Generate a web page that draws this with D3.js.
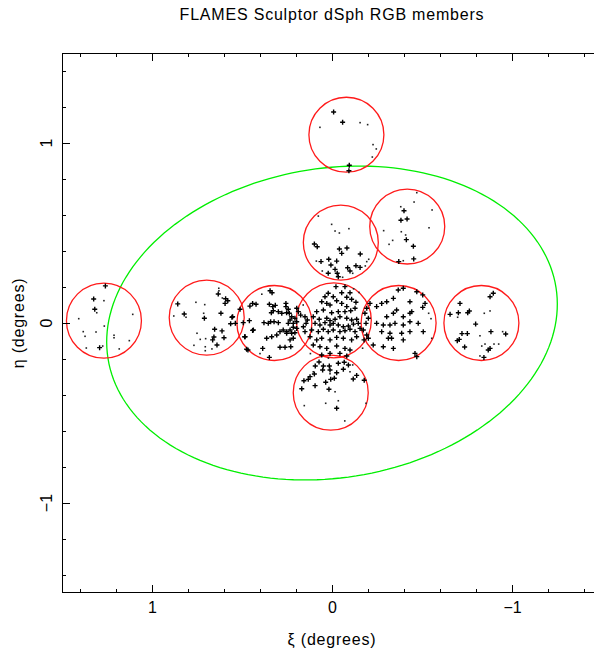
<!DOCTYPE html>
<html><head><meta charset="utf-8">
<script src="https://cdn.jsdelivr.net/npm/d3@7"></script>
<style>
body{margin:0;background:#fff}
svg{display:block}
text{font-family:"Liberation Sans",Arial,Helvetica,sans-serif;fill:#000}
</style>
</head><body>
<svg id="chart" width="594" height="653"></svg>
<script>
// ---------------- data ----------------
const title = "FLAMES Sculptor dSph RGB members";
const xLabel = "ξ (degrees)";
const yLabel = "η (degrees)";
const xDomain = [1.5, -1.5];
const yDomain = [-1.5, 1.5];
const majorTicks = [-1, 0, 1];
const majorTickLabels = ["−1", "0", "1"];
const minorTicks = [-1.4,-1.2,-0.8,-0.6,-0.4,-0.2,0.2,0.4,0.6,0.8,1.2,1.4];

// FLAMES field centres (xi, eta) in degrees, field radius 12.5 arcmin
const fieldCentres = [
  [1.267, 0.013], [0.696, 0.03], [0.32, 0.0], [-0.01, 0.015], [-0.37, 0.0],
  [-0.83, 0.0], [0.007, -0.387], [-0.049, 0.447], [-0.418, 0.536], [-0.08, 1.046]
];
const fieldRadius = 0.2083;

// tidal ellipse
const tidalSemiMajor = 1.26;
const tidalSemiMinor = 0.86;
const tidalPA = 99; // degrees east of north

// members drawn with "+"
const plusStars = [
  [1.259,0.206],[1.324,0.133],[1.318,0.076],[1.291,-0.137],
  [0.632,0.161],[0.591,0.135],[0.579,0.124],[0.594,0.109],[0.857,0.106],[0.821,0.05],[0.709,0.026],
  [0.617,0.054],[0.556,0.032],[0.563,-0.004],[0.652,-0.035],[0.611,-0.044],[0.656,-0.078],[0.663,-0.094],
  [0.6,-0.082],[0.639,-0.122],[0.467,-0.15],[0.511,0.076],[0.441,-0.041],[0.485,-0.076],
  [0.344,0.179],[0.333,0.168],[0.441,0.109],[0.422,0.104],[0.456,0.094],[0.348,0.104],[0.329,0.091],
  [0.315,0.098],[0.326,0.068],[0.337,0.057],[0.256,0.109],[0.256,0.091],[0.243,0.076],[0.237,0.054],
  [0.252,0.057],[0.298,0.063],[0.279,0.054],[0.196,0.082],[0.187,0.063],[0.174,0.044],[0.224,0.035],
  [0.206,0.026],[0.233,0.017],[0.243,-0.002],[0.215,-0.002],[0.196,0.007],[0.378,0.002],[0.354,-0.002],
  [0.341,0.007],[0.322,0.007],[0.298,0.002],[0.552,0.035],[0.537,-0.002],[0.493,0.002],[0.459,0.013],
  [0.437,-0.039],[0.289,-0.048],[0.271,-0.039],[0.252,-0.048],[0.233,-0.039],[0.215,-0.024],[0.196,-0.03],
  [0.252,-0.057],[0.224,-0.057],[0.206,-0.054],[0.335,-0.076],[0.307,-0.067],[0.363,-0.085],[0.483,-0.076],
  [0.474,-0.146],[0.385,-0.141],[0.348,-0.191],[0.289,-0.135],[0.261,-0.135],[0.229,-0.132],[0.233,-0.094],
  [0.215,-0.085],[0.15,0.035],[0.137,0.017],[0.144,-0.002],[0.159,-0.021],[0.15,-0.048],
  [-0.022,0.202],[-0.072,0.202],[0.021,0.165],[-0.054,0.168],[-0.1,0.168],[0.039,0.146],[-0.007,0.146],
  [-0.082,0.143],[-0.109,0.132],[0.057,0.118],[0.029,0.109],[0.011,0.1],[-0.026,0.124],[-0.054,0.109],
  [-0.082,0.091],[-0.133,0.115],[0.085,0.063],[0.048,0.072],[0.002,0.057],[-0.035,0.063],[-0.072,0.063],
  [-0.104,0.068],[-0.128,0.082],[0.104,0.035],[0.071,0.021],[0.029,0.026],[0.011,0.013],[-0.017,0.021],
  [-0.044,0.035],[-0.082,0.026],[-0.109,0.017],[-0.137,0.021],[0.094,-0.002],[0.067,-0.011],[0.039,0.002],
  [0.011,-0.011],[-0.007,-0.002],[-0.035,-0.011],[-0.063,-0.021],[-0.091,-0.017],[-0.119,-0.006],[-0.146,-0.002],
  [0.113,-0.039],[0.076,-0.048],[0.048,-0.035],[0.021,-0.048],[-0.007,-0.039],[-0.044,-0.048],[-0.072,-0.043],
  [-0.1,-0.035],[-0.128,-0.048],[-0.156,-0.03],[0.122,-0.076],[0.085,-0.094],[0.057,-0.085],[0.011,-0.094],
  [-0.026,-0.08],[-0.063,-0.085],[-0.109,-0.094],[-0.137,-0.076],[0.104,-0.122],[0.067,-0.132],[0.029,-0.141],
  [-0.026,-0.128],[-0.072,-0.141],[-0.1,-0.15],[0.057,-0.178],[0.011,-0.169],[-0.044,-0.169],[-0.082,-0.183],
  [-0.211,0.109],[-0.193,0.082],[-0.183,0.054],[-0.202,0.026],[-0.189,-0.002],[-0.174,-0.039],[-0.193,-0.067],
  [-0.178,-0.094],[-0.202,-0.085],
  [-0.248,0.091],[-0.276,0.109],[-0.304,0.118],[-0.341,0.137],[-0.368,0.183],[-0.396,0.193],[-0.433,0.118],
  [-0.471,0.174],[-0.504,0.156],[-0.517,0.109],[-0.304,0.035],[-0.341,0.054],[-0.359,0.072],[-0.396,0.035],
  [-0.433,0.054],[-0.443,0.063],[-0.248,-0.002],[-0.285,-0.011],[-0.322,-0.011],[-0.35,-0.002],[-0.396,-0.011],
  [-0.433,0.007],[-0.479,-0.002],[-0.276,-0.048],[-0.322,-0.057],[-0.387,-0.057],[-0.433,-0.048],[-0.507,-0.048],
  [-0.313,-0.085],[-0.331,-0.085],[-0.396,-0.094],[-0.229,-0.122],[-0.285,-0.132],[-0.341,-0.141],[-0.461,-0.169],
  [-0.471,-0.187],[-0.504,0.087],
  [-0.896,0.165],[-0.878,0.146],[-0.711,0.109],[-0.656,0.048],[-0.702,0.057],[-0.763,0.067],[-0.754,0.057],
  [-0.798,-0.006],[-0.883,-0.048],[-0.722,-0.059],[-0.752,-0.059],[-0.965,-0.061],[-0.707,-0.091],[-0.696,-0.098],
  [-0.878,-0.141],[-0.868,-0.15],[-0.737,-0.133],[-0.844,-0.191],
  [0.072,-0.217],[0.048,-0.239],[0.015,-0.239],[-0.035,-0.224],[-0.068,-0.218],[-0.091,-0.233],[0.093,-0.239],
  [0.052,-0.261],[0.011,-0.261],[-0.063,-0.257],[-0.026,-0.276],[0.098,-0.283],[0.122,-0.298],[0.156,-0.321],
  [0.132,-0.313],[-0.013,-0.307],[0.007,-0.313],[0.035,-0.329],[-0.137,-0.291],[-0.118,-0.311],[-0.179,-0.318],
  [0.094,-0.348],[0.168,-0.365],[0.017,-0.368],[-0.026,-0.474],
  [0.098,0.439],[0.082,0.424],[-0.041,0.411],[-0.054,0.387],[-0.083,0.417],[-0.157,0.383],[0.018,0.354],
  [0.061,0.341],[-0.026,0.344],[0.006,0.322],[-0.017,0.298],[-0.087,0.307],[-0.1,0.289],[-0.133,0.318],
  [-0.156,0.309],[0.021,0.276],[-0.029,0.276],[-0.035,0.257],
  [-0.4,0.624],[-0.383,0.571],[-0.417,0.578],[-0.413,0.463],[-0.452,0.426],[-0.371,0.341],[-0.454,0.356],
  [-0.009,1.172],[-0.059,1.115],[-0.096,0.876],[-0.094,0.846]
];

// members drawn with "."
const dotStars = [
  [1.267,0.124],[1.307,0.057],[1.407,0.024],[1.107,0.048],[1.265,-0.017],[1.382,-0.048],[1.372,-0.074],
  [1.311,-0.05],[1.211,-0.068],[1.211,-0.082],[1.126,-0.098],[1.365,-0.139],[1.274,-0.128],[1.182,-0.144],
  [0.629,0.193],[0.628,0.179],[0.609,0.139],[0.756,0.115],[0.707,0.102],[0.811,0.032],[0.879,0.039],
  [0.713,0.054],[0.75,-0.057],[0.732,-0.091],[0.702,-0.087],[0.767,-0.124],[0.704,-0.132],[0.704,-0.154],
  [0.667,-0.144],
  [-0.537,0.054],[-0.55,0.024],[-0.554,-0.085],
  [-0.846,0.054],[-0.878,0.067],[-0.698,0.032],[-0.948,-0.048],[-0.822,-0.071],[-0.85,-0.117],[-0.832,-0.128],
  [-0.9,-0.117],[-0.926,-0.117],[-0.822,-0.183],
  [0.104,-0.271],[0.011,-0.282],[-0.1,-0.271],[-0.017,-0.382],[-0.035,-0.432],[0.035,-0.446],[0.154,-0.459],
  [-0.189,-0.446],[-0.071,-0.544],[-0.115,-0.233],
  [0.076,0.594],[0.002,0.548],[-0.017,0.511],[-0.041,0.5],[-0.094,0.524],[-0.204,0.354],[-0.193,0.341],
  [0.087,0.344],[0.054,0.289],[-0.115,0.276],[-0.185,0.317],[-0.059,0.254],
  [-0.471,0.724],[-0.456,0.672],[-0.382,0.646],[-0.556,0.628],[-0.287,0.513],[-0.385,0.507],[-0.409,0.489],
  [-0.539,0.529],[-0.337,0.459],[-0.317,0.437],[-0.396,0.346],
  [0.067,1.087],[-0.156,1.113],[-0.198,1.102],[-0.228,0.991],[-0.246,0.967],[-0.224,0.922],
  [0.16,0.1],[0.12,-0.17],[-0.15,0.17],[-0.17,-0.14],[0.02,-0.195],[-0.12,0.19],[0.39,0.16],[0.4,-0.17]
];

// ---------------- drawing ----------------
const svg = d3.select("#chart");
const margin = {left: 62, top: 53, right: 602, bottom: 593};
const x = d3.scaleLinear().domain(xDomain).range([margin.left, margin.right]);
const y = d3.scaleLinear().domain(yDomain).range([margin.bottom, margin.top]);

svg.append("defs").append("clipPath").attr("id","plotclip")
  .append("rect").attr("x", margin.left).attr("y", margin.top)
  .attr("width", margin.right - margin.left).attr("height", margin.bottom - margin.top);

const plot = svg.append("g").attr("clip-path","url(#plotclip)");

// tidal ellipse
const paRad = tidalPA * Math.PI / 180;
const ux = Math.sin(paRad), uy = Math.cos(paRad);
const vx = Math.cos(paRad), vy = -Math.sin(paRad);
const ellPts = d3.range(0, 361, 2).map(t => {
  const r = t * Math.PI / 180;
  const a = tidalSemiMajor * Math.cos(r), b = tidalSemiMinor * Math.sin(r);
  return [a * ux + b * vx, a * uy + b * vy];
});
plot.append("path").datum(ellPts)
  .attr("d", d3.line().x(d => x(d[0])).y(d => y(d[1])).curve(d3.curveLinearClosed))
  .attr("fill","none").attr("stroke","#00ee00").attr("stroke-width",1.3);

// FLAMES fields
const pxPerDeg = Math.abs(x(1) - x(0));
plot.selectAll("circle.field").data(fieldCentres).join("circle")
  .attr("class","field")
  .attr("cx", d => x(d[0])).attr("cy", d => y(d[1]))
  .attr("r", Math.abs(x(fieldRadius) - x(0)))
  .attr("fill","none").attr("stroke","#ff1a1a").attr("stroke-width",1.3);

// dots
plot.selectAll("rect.dot").data(dotStars).join("rect")
  .attr("class","dot")
  .attr("x", d => x(d[0]) - 0.8).attr("y", d => y(d[1]) - 0.8)
  .attr("width", 1.6).attr("height", 1.6).attr("fill","#222");

// pluses
plot.selectAll("path.plus").data(plusStars).join("path")
  .attr("class","plus")
  .attr("transform", d => `translate(${x(d[0])},${y(d[1])})`)
  .attr("d","M-2.5,0H2.5M0,-2.5V2.5")
  .attr("stroke","#000").attr("stroke-width",1.4).attr("fill","none");

// axes (ticks pointing inward)
function addAxis(gen, transform, size, fmt) {
  const g = svg.append("g").attr("transform", transform)
    .call(gen.tickSizeInner(size).tickSizeOuter(0).tickFormat(fmt));
  g.select(".domain").remove();
  g.selectAll("line").attr("stroke","#000");
  return g;
}
const lbl = v => majorTickLabels[majorTicks.indexOf(v)];
const bottomMajor = addAxis(d3.axisBottom(x).tickValues(majorTicks).tickPadding(9), `translate(0,${margin.bottom})`, -8, lbl);
bottomMajor.selectAll("text").attr("font-size", 16).style("font-family","'Liberation Sans',Arial,sans-serif");
addAxis(d3.axisBottom(x).tickValues(minorTicks), `translate(0,${margin.bottom})`, -4, () => "");
addAxis(d3.axisTop(x).tickValues(majorTicks), `translate(0,${margin.top})`, -8, () => "");
addAxis(d3.axisTop(x).tickValues(minorTicks), `translate(0,${margin.top})`, -4, () => "");
addAxis(d3.axisLeft(y).tickValues(majorTicks), `translate(${margin.left},0)`, -8, () => "");
addAxis(d3.axisLeft(y).tickValues(minorTicks), `translate(${margin.left},0)`, -4, () => "");
addAxis(d3.axisRight(y).tickValues(majorTicks), `translate(${margin.right},0)`, -8, () => "");
addAxis(d3.axisRight(y).tickValues(minorTicks), `translate(${margin.right},0)`, -4, () => "");

// rotated y tick labels
svg.selectAll("text.ylab").data(majorTicks).join("text")
  .attr("class","ylab")
  .attr("transform", d => `translate(51.5,${y(d)}) rotate(-90)`)
  .attr("text-anchor","middle").attr("font-size",16)
  .text(d => lbl(d));

// frame
svg.append("rect").attr("x", margin.left + 0.5).attr("y", margin.top + 0.5)
  .attr("width", margin.right - margin.left - 1).attr("height", margin.bottom - margin.top - 1)
  .attr("fill","none").attr("stroke","#000").attr("stroke-width",1);

// titles
const cx = x(0);
svg.append("text").attr("x", cx).attr("y", 20).attr("text-anchor","middle")
  .attr("font-size",16).style("letter-spacing","0.8px").text(title);
svg.append("text").attr("x", cx).attr("y", 645).attr("text-anchor","middle")
  .attr("font-size",16).style("letter-spacing","0.8px").text(xLabel);
svg.append("text").attr("transform", `translate(24,${y(0)}) rotate(-90)`).attr("text-anchor","middle")
  .attr("font-size",16).style("letter-spacing","0.8px").text(yLabel);
</script>
</body></html>
